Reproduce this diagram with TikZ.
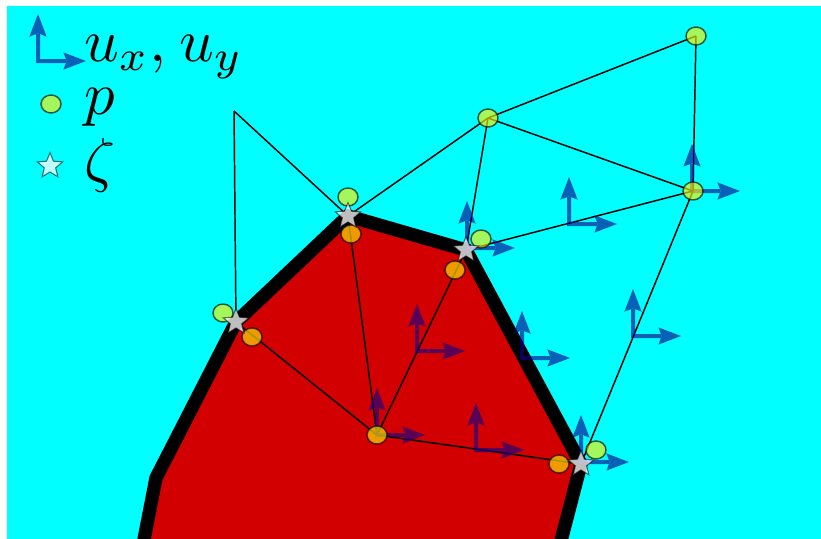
\documentclass[tikz,border=0pt]{standalone}
\usetikzlibrary{arrows.meta,shapes.geometric}
\definecolor{bgcyan}{RGB}{0,255,255}
\definecolor{domred}{RGB}{210,0,0}
\definecolor{axisblue}{RGB}{15,0,140}
\tikzset{
  regionshape/.style={fill=domred,draw=black,line width=10pt,miter limit=10},
  meshline/.style={draw=black,line width=1.1pt},
  axes/.style={draw=axisblue,line width=3pt,
    {Stealth[length=17pt,width=13pt,inset=2.5pt,line width=0pt]}-{Stealth[length=17pt,width=13pt,inset=2.5pt,line width=0pt]}},
  pnode/.style={ellipse,draw=black,fill=yellow,opacity=.64,line width=1.1pt,
    minimum width=15pt,minimum height=13.5pt,inner sep=0pt},
  zetanode/.style={star,star points=5,star point ratio=2.25,draw=black,fill=white,
    fill opacity=.75,draw opacity=.55,line width=.8pt,minimum size=20pt,inner sep=0pt},
  legendtext/.style={anchor=base west,inner sep=0pt,scale=4.55}
}
\begin{document}
\begin{tikzpicture}[x=.75pt,y=-.75pt]
\useasboundingbox (0,0) rectangle (821,539);
\fill[bgcyan] (7,6) rectangle (821,539);
\begin{scope}
  \clip (7,6) rectangle (821,539);
  \draw[regionshape] (140,560) -- (156,478) -- (236,322) -- (348,216) -- (466,250) -- (581,464) -- (556,560) -- cycle;
\end{scope}
% mesh vertices
\coordinate (va) at (234,111);
\coordinate (vb) at (236,322);
\coordinate (vc) at (348,216);
\coordinate (vd) at (466,250);
\coordinate (ve) at (581,464);
\coordinate (vf) at (377,435);
\coordinate (vg) at (488,118);
\coordinate (vh) at (696,36);
\coordinate (vi) at (693,191);
\draw[meshline] (va) -- (vb);
\draw[meshline] (va) -- (vc);
\draw[meshline] (vc) -- (vg);
\draw[meshline] (vg) -- (vd);
\draw[meshline] (vd) -- (vi);
\draw[meshline] (vg) -- (vi);
\draw[meshline] (vg) -- (vh);
\draw[meshline] (vh) -- (vi);
\draw[meshline] (vi) -- (ve);
\draw[meshline] (vf) -- (vb);
\draw[meshline] (vf) -- (vc);
\draw[meshline] (vf) -- (vd);
\draw[meshline] (vf) -- (ve);
% velocity arrows
\foreach \n/\x/\y in {l/38/61,a/377/435,b/417/351,c/476/450,d/522/358,e/569/224,f/633/336,g/581/462,h/467/248,i/692/191}{
  \coordinate (o\n) at (\x,\y);
  \begin{scope}[transparency group,opacity=.62]
    \draw[axes] (o\n) ++(0,-47) -- (o\n) -- ++(48,0);
  \end{scope}
}
% pressure nodes
\foreach \n/\x/\y in {pa/351/234,pb/455/270,pc/252/337,pd/377/435,pe/559/464,pf/348/197,pg/481/239,ph/223/313,pi/596/450,pj/488/118,pk/696/36,pl/693/191}{
  \node[pnode] (\n) at (\x,\y) {};
}
% stars
\node[zetanode] (za) at (vc) {};
\node[zetanode] (zb) at (vd) {};
\node[zetanode] (zc) at (vb) {};
\node[zetanode] (zd) at (ve) {};
% legend
\node[pnode] (lp) at (51,104) {};
\node[zetanode] (lz) at (50,166) {};
\node[legendtext] (tu) at (83,61) {$u_x{,}\hspace{.21em}u_y$};
\node[legendtext] (tp) at (83,114) {$p$};
\node[legendtext] (tz) at (83,180) {$\zeta$};
\end{tikzpicture}
\end{document}
